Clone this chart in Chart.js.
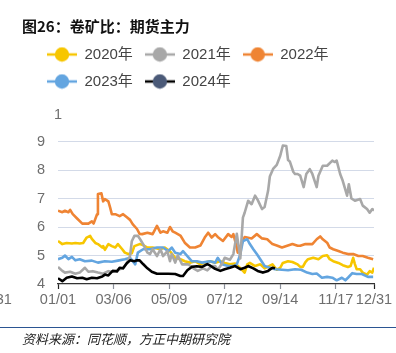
<!DOCTYPE html>
<html><head><meta charset="utf-8">
<script src="https://cdn.jsdelivr.net/npm/chart.js@4.4.1/dist/chart.umd.min.js"></script>
<style>
html,body{margin:0;padding:0;background:#fff;}
#wrap{position:relative;width:396px;height:353px;overflow:hidden;background:#fff;}
#c{position:absolute;left:0;top:0;width:396px;height:353px;}
#title{position:absolute;left:22px;top:17px;font-weight:bold;font-size:15px;font-family:"Noto Sans CJK SC",sans-serif;line-height:17px;color:#111;white-space:nowrap;}
#rule{position:absolute;left:0;top:327px;width:396px;height:0;border-top:1.5px solid #2b5592;}
#src{position:absolute;left:22px;top:331px;font-style:italic;font-size:13px;font-family:"Noto Sans CJK SC",sans-serif;line-height:15px;color:#222;white-space:nowrap;}
</style></head><body>
<div id="wrap"><canvas id="c" width="396" height="353"></canvas>
<div id="title">图26：卷矿比：期货主力</div>
<div id="rule"></div>
<div id="src">资料来源：同花顺，方正中期研究院</div>
</div>
<script>
// ---- data: [day of year, value] ----
const seriesNames = ['2020年','2021年','2022年','2023年','2024年'];
const s2020 = [[0,5.51],[5,5.40],[10,5.44],[16,5.42],[20,5.44],[25,5.42],[29,5.44],[33,5.63],[37,5.69],[39,5.58],[43,5.44],[46,5.40],[51,5.28],[52,5.33],[54,5.20],[58,5.40],[62,5.33],[66,5.28],[69,5.40],[74,5.22],[77,5.10],[81,5.05],[85,5.08],[88,5.33],[94,5.40],[97,5.38],[103,5.28],[109,5.28],[118,5.22],[123,5.28],[129,5.15],[135,4.92],[141,4.87],[146,4.80],[152,4.75],[158,4.80],[164,4.69],[169,4.75],[175,4.80],[181,4.75],[187,4.80],[192,4.74],[198,4.69],[204,4.72],[212,4.50],[215,4.40],[218,4.69],[221,4.74],[227,4.63],[233,4.69],[238,4.55],[247,4.69],[252,4.50],[256,4.57],[259,4.74],[265,4.80],[270,4.77],[276,4.69],[279,4.60],[282,4.60],[285,4.77],[288,4.87],[294,4.92],[300,4.87],[305,4.98],[310,5.01],[313,4.87],[317,4.80],[323,4.74],[328,4.66],[334,4.60],[337,4.63],[340,4.92],[342,4.70],[344,4.52],[348,4.52],[351,4.40],[356,4.33],[359,4.45],[362,4.40],[364,4.57]];
const s2021 = [[0,4.60],[5,4.46],[8,4.40],[14,4.43],[20,4.36],[25,4.40],[31,4.57],[35,4.43],[40,4.45],[46,4.40],[52,4.36],[58,4.45],[63,4.43],[69,4.50],[75,4.55],[79,4.72],[83,4.98],[85,5.50],[88,5.69],[92,5.69],[94,5.60],[96,5.50],[98,5.40],[103,5.10],[106,5.05],[109,5.22],[114,4.98],[118,5.22],[121,4.98],[126,5.15],[129,4.80],[131,5.05],[135,4.75],[138,5.00],[143,4.69],[150,4.69],[156,4.55],[161,4.46],[167,4.55],[172,4.48],[177,4.63],[181,4.63],[184,4.50],[189,4.72],[192,4.92],[198,4.85],[202,5.05],[206,5.76],[210,4.90],[213,6.33],[215,6.50],[219,6.92],[223,6.80],[227,7.10],[230,6.95],[235,6.63],[238,6.70],[242,7.27],[244,7.77],[248,8.05],[252,8.18],[256,8.50],[259,8.86],[263,8.84],[265,8.35],[267,8.30],[271,7.94],[273,7.86],[276,7.86],[279,7.80],[283,7.40],[286,7.86],[290,8.03],[293,7.86],[298,7.40],[300,7.80],[305,8.15],[310,8.15],[316,8.33],[319,8.28],[321,8.33],[325,7.86],[328,7.62],[333,7.10],[335,7.50],[338,7.00],[342,6.92],[348,6.98],[351,6.75],[356,6.63],[359,6.50],[362,6.63],[364,6.58]];
const s2022 = [[0,6.57],[5,6.52],[8,6.57],[12,6.52],[14,6.60],[17,6.45],[22,6.30],[28,6.12],[35,6.12],[39,6.20],[41,6.12],[45,6.45],[46,7.16],[50,7.18],[52,6.90],[54,6.98],[58,6.90],[60,6.69],[62,6.45],[66,6.45],[71,6.38],[75,6.45],[79,6.35],[83,6.25],[86,6.10],[91,5.93],[94,5.76],[97,5.75],[103,5.80],[109,5.75],[114,6.04],[118,5.80],[121,5.85],[126,5.80],[129,6.00],[132,5.85],[135,5.80],[141,5.70],[146,5.45],[152,5.28],[158,5.28],[164,5.35],[169,5.63],[173,5.80],[177,5.63],[181,5.75],[184,5.65],[190,5.51],[196,5.75],[200,5.65],[202,5.75],[206,5.28],[207,5.10],[212,5.45],[215,5.65],[223,5.60],[229,5.75],[235,5.60],[241,5.57],[247,5.40],[252,5.35],[258,5.28],[264,5.34],[270,5.40],[276,5.34],[279,5.34],[285,5.40],[293,5.40],[298,5.57],[302,5.67],[305,5.57],[310,5.45],[313,5.28],[317,5.22],[323,5.16],[328,5.10],[334,5.05],[340,5.05],[346,4.98],[351,4.98],[357,4.92],[363,4.87]];
const s2023 = [[0,4.87],[5,4.92],[8,5.00],[12,4.87],[16,4.95],[20,4.83],[25,4.87],[31,4.80],[39,4.82],[46,4.75],[54,4.80],[62,4.78],[69,4.82],[77,4.87],[83,4.92],[89,4.69],[92,5.10],[98,5.22],[106,5.22],[114,5.28],[121,5.28],[127,5.15],[131,5.28],[135,5.10],[141,5.05],[144,5.15],[149,4.98],[154,4.80],[160,4.80],[166,4.75],[175,4.80],[181,4.75],[184,4.92],[189,4.69],[196,4.63],[202,4.63],[206,4.69],[210,5.05],[213,5.51],[218,5.57],[221,5.40],[225,5.22],[229,5.05],[233,4.87],[238,4.63],[244,4.57],[250,4.52],[258,4.50],[265,4.48],[273,4.52],[280,4.50],[287,4.40],[293,4.35],[298,4.37],[304,4.22],[310,4.25],[316,4.22],[321,4.13],[327,4.22],[331,4.13],[334,4.22],[339,4.38],[344,4.35],[350,4.35],[357,4.25],[363,4.25]];
const s2024 = [[0,4.20],[5,4.10],[10,4.22],[16,4.26],[22,4.20],[28,4.22],[33,4.17],[39,4.22],[45,4.20],[51,4.26],[54,4.33],[58,4.30],[63,4.46],[68,4.44],[71,4.57],[75,4.55],[79,4.72],[83,4.83],[88,4.80],[91,4.83],[94,4.83],[98,4.70],[103,4.55],[108,4.43],[114,4.36],[120,4.36],[127,4.36],[135,4.35],[141,4.28],[144,4.28],[149,4.48],[154,4.60],[160,4.62],[166,4.60],[172,4.70],[175,4.65],[181,4.53],[187,4.46],[192,4.52],[198,4.57],[204,4.63],[210,4.52],[215,4.57],[219,4.63],[225,4.55],[230,4.46],[236,4.40],[242,4.46],[247,4.57],[250,4.55]];
const tickDays = [0,64,128,192,256,320,364];
const tickLabels = ['01/01','03/06','05/09','07/12','09/14','11/17','12/31'];
const prevTickDay = -74, prevTickLabel = '12/31';
const yMin = 4, yMax = 10, yTopLabel = '1';

// ---- styles ----
const allSeries = [s2020, s2021, s2022, s2023, s2024];
const lineColors = ['#f7c600','#a8a8a8','#ef8433','#63a5e0','#000000'];
const dotColors  = ['#f7c600','#a8a8a8','#ef8433','#63a5e0','#4b5a78'];
const drawOrder  = [4,1,3,2,0];
const FONT = '"Liberation Sans","Noto Sans CJK SC",sans-serif';
const TICKC = '#6e6e6e';

function marker(lc, dc){
  const c = document.createElement('canvas'); c.width = 30; c.height = 16;
  const g = c.getContext('2d');
  g.strokeStyle = lc; g.lineWidth = 2.5; g.beginPath(); g.moveTo(0,8); g.lineTo(30,8); g.stroke();
  g.fillStyle = dc; g.beginPath(); g.arc(15,8,7.2,0,Math.PI*2); g.fill();
  return c;
}
const markers = lineColors.map((c,i)=>marker(c, dotColors[i]));

const extraText = {
  id: 'extraText',
  afterDraw(chart){
    const {ctx, scales} = chart; const x = scales.x, y = scales.y;
    ctx.save();
    ctx.font = '14.5px ' + FONT; ctx.fillStyle = TICKC;
    ctx.textAlign = 'center'; ctx.textBaseline = 'middle';
    ctx.fillText(yTopLabel, x.left, y.getPixelForValue(yMax) + 2);
    ctx.fillText(prevTickLabel, x.getPixelForValue(prevTickDay), x.top + 16);
    ctx.restore();
  }
};

new Chart(document.getElementById('c'), {
  type: 'line',
  data: {
    datasets: allSeries.map((s,i)=>({
      label: seriesNames[i],
      data: s.map(p=>({x:p[0], y:p[1]})),
      borderColor: lineColors[i],
      backgroundColor: dotColors[i],
      borderWidth: 2.6,
      borderJoinStyle: 'round',
      pointRadius: 0, pointHoverRadius: 0,
      tension: 0, fill: false,
      order: drawOrder[i]
    }))
  },
  options: {
    responsive: false, animation: false, devicePixelRatio: 1,
    layout: { padding: { left: 35, right: 22, top: 35, bottom: 44 } },
    plugins: {
      title: { display: false },
      tooltip: { enabled: false },
      legend: {
        position: 'top', align: 'start',
        labels: {
          usePointStyle: true, pointStyleWidth: 30, padding: 12,
          color: '#444', font: { size: 15, family: FONT },
          sort: (a,b)=>a.datasetIndex-b.datasetIndex,
          generateLabels: (chart)=>{
            const items = Chart.defaults.plugins.legend.labels.generateLabels(chart);
            items.forEach(it=>{ it.pointStyle = markers[it.datasetIndex]; });
            return items;
          }
        }
      }
    },
    scales: {
      x: {
        type: 'linear', position: 'bottom', min: 0, max: 364,
        afterBuildTicks: (s)=>{ s.ticks = tickDays.map(v=>({value:v})); },
        afterFit: (s)=>{ s.height = 25; },
        grid: { display: true, drawOnChartArea: false, drawTicks: true, tickLength: 5,
                tickColor: (c)=> (c.index===0 || c.index===tickDays.length-1) ? '#222' : '#8a8f99', tickWidth: 1.2 },
        border: { display: true, color: '#333', width: 1.2 },
        ticks: { autoSkip: false, maxRotation: 0, minRotation: 0, padding: 2,
                 color: TICKC, font: { size: 14.5, family: FONT },
                 callback: (v, i)=> tickLabels[i] }
      },
      xTop: {
        type: 'linear', position: 'top', display: true, min: 0, max: 1,
        grid: { display: false, drawTicks: false }, border: { display: false },
        ticks: { display: false },
        afterFit: (s)=>{ s.height = 14; }
      },
      y: {
        type: 'linear', min: yMin, max: yMax,
        afterFit: (s)=>{ s.width = 23; },
        grid: { drawTicks: false, lineWidth: 1,
                color: (c)=> (c.tick && (c.tick.value===yMax || c.tick.value===yMin)) ? 'rgba(0,0,0,0)' : '#d3dae8' },
        border: { display: false },
        ticks: { stepSize: 1, padding: 13, color: TICKC, font: { size: 14.5, family: FONT },
                 callback: (v)=> v===yMax ? '' : String(v) }
      }
    }
  },
  plugins: [extraText]
});
</script>
</body></html>
